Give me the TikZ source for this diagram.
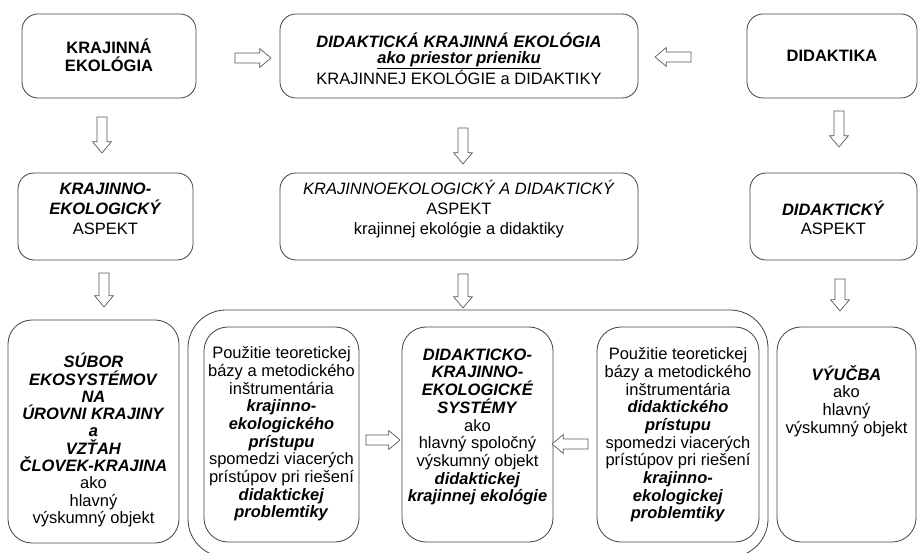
\documentclass[tikz,border=0pt]{standalone}
\usepackage{fontspec}
\setmainfont{Liberation Sans}
\usetikzlibrary{shapes.arrows}

\tikzset{
  box/.style={draw=black!75, line width=0.8bp, rounded corners=16bp, inner sep=0pt},
  tall/.style={box, rounded corners=24bp},
  txt/.style={align=center, inner sep=0pt, font=\fontsize{16.5bp}{#1}\selectfont},
  txt/.default=17.7bp,
  blk/.style={single arrow, draw=black!65, line width=0.7bp, fill=white,
    inner xsep=0pt, inner ysep=4.6bp, minimum height=36bp,
    single arrow head extend=4.5bp, single arrow tip angle=80},
}
\newcommand{\bfit}[1]{\textbf{\textit{#1}}}

\begin{document}
\begin{tikzpicture}[x=1bp, y=-1bp]
\useasboundingbox (0,0) rectangle (918,553);

% top row
\node [box, minimum width=174bp, minimum height=84bp] (T0) at (109, 56) {};
\node [box, minimum width=358bp, minimum height=84bp] (T1) at (459, 56) {};
\node [box, minimum width=170bp, minimum height=84bp] (T2) at (832, 56) {};
\node [txt=18bp] (T0l) at (109, 55) {\textbf{KRAJINNÁ}\\\textbf{EKOLÓGIA}};
\node [txt=15.7bp] (T1l) at (459, 59) {\bfit{DIDAKTICKÁ KRAJINNÁ EKOLÓGIA}\\\underline{\bfit{ako priestor prieniku}}\\KRAJINNEJ EKOLÓGIE a DIDAKTIKY};
\node [txt] (T2l) at (832, 56) {\textbf{DIDAKTIKA}};

% aspect row
\node [box, minimum width=175bp, minimum height=87bp] (A0) at (105.5, 216.5) {};
\node [box, minimum width=358bp, minimum height=87bp] (A1) at (459, 216.5) {};
\node [box, minimum width=167bp, minimum height=87bp] (A2) at (833.5, 216.5) {};
\node [txt=20bp] (A0l) at (105.5, 209) {\bfit{KRAJINNO-}\\\bfit{EKOLOGICKÝ}\\ASPEKT};
\node [txt=20bp] (A1l) at (459, 209) {\textit{KRAJINNOEKOLOGICKÝ A DIDAKTICKÝ}\\ASPEKT\\krajinnej ekológie a didaktiky};
\node [txt=19bp] (A2l) at (833.5, 218) {\bfit{DIDAKTICKÝ}\\ASPEKT};

% bottom row
\node [box, rounded corners=38bp, minimum width=580bp, minimum height=247bp] (G) at (478, 433.5) {};
\node [tall, minimum width=171bp, minimum height=223bp] (B0) at (93.5, 431.5) {};
\node [tall, minimum width=155bp, minimum height=215bp] (B1) at (281.5, 434.5) {};
\node [tall, minimum width=151bp, minimum height=215bp] (B2) at (477.5, 434.5) {};
\node [tall, minimum width=162bp, minimum height=215bp] (B3) at (678, 434.5) {};
\node [tall, minimum width=139bp, minimum height=215bp] (B4) at (846.5, 434.5) {};
\node [txt=17.3bp] (B0l) at (93.5, 440) {\bfit{SÚBOR}\\\bfit{EKOSYSTÉMOV}\\\bfit{NA}\\\bfit{ÚROVNI KRAJINY}\\\bfit{a}\\\bfit{VZŤAH}\\\bfit{ČLOVEK-KRAJINA}\\ako\\hlavný\\výskumný objekt};
\node [txt] (B1l) at (281.5, 434) {Použitie teoretickej\\bázy a metodického\\inštrumentária\\\bfit{krajinno-}\\\bfit{ekologického}\\\bfit{prístupu}\\spomedzi viacerých\\prístúpov pri riešení\\\bfit{didaktickej}\\\bfit{problemtiky}};
\node [txt] (B2l) at (477.5, 427) {\bfit{DIDAKTICKO-}\\\bfit{KRAJINNO-}\\\bfit{EKOLOGICKÉ}\\\bfit{SYSTÉMY}\\ako\\hlavný spoločný\\výskumný objekt\\\bfit{didaktickej}\\\bfit{krajinnej ekológie}};
\node [txt] (B3l) at (678, 435) {Použitie teoretickej\\bázy a metodického\\inštrumentária\\\bfit{didaktického}\\\bfit{prístupu}\\spomedzi viacerých\\prístúpov pri riešení\\\bfit{krajinno-}\\\bfit{ekologickej}\\\bfit{problemtiky}};
\node [txt] (B4l) at (846.5, 401) {\bfit{VÝUČBA}\\ako\\hlavný\\výskumný objekt};

% hollow arrows
\node [blk] (R0) at (250, 58) {};
\node [blk, rotate=180] (L0) at (676, 57) {};
\node [blk, rotate=-90] (D0) at (102, 132) {};
\node [blk, rotate=-90] (D1) at (463, 143) {};
\node [blk, rotate=-90] (D2) at (839, 126) {};
\node [blk, rotate=-90, minimum height=34bp] (D3) at (104, 287) {};
\node [blk, rotate=-90, minimum height=34bp] (D4) at (463, 288) {};
\node [blk, rotate=-90, minimum height=32bp] (D5) at (840, 292) {};
\node [blk, minimum height=34bp] (R1) at (380, 440) {};
\node [blk, rotate=180] (L1) at (573, 444) {};
\end{tikzpicture}
\end{document}
